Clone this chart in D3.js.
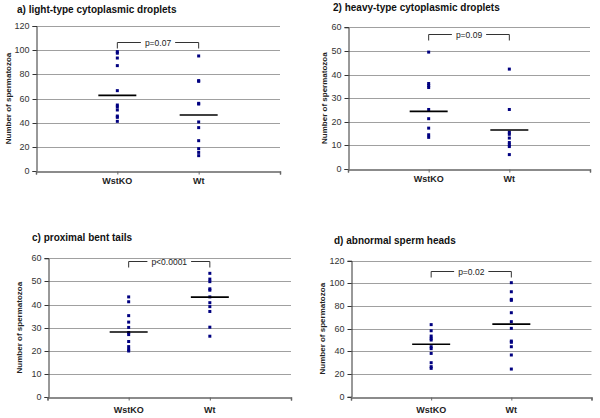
<!DOCTYPE html>
<html><head><meta charset="utf-8">
<script src="https://cdn.jsdelivr.net/npm/d3@7"></script>
<style>
body{margin:0;background:#fff;}
svg{display:block;font-family:"Liberation Sans",Arial,sans-serif;}
</style></head>
<body><svg id="c" width="600" height="418"></svg>
<script>
const categories = ["WstKO", "Wt"];
const titles = ["a) light-type cytoplasmic droplets", "2) heavy-type cytoplasmic droplets", "c) proximal bent tails", "d) abnormal sperm heads"];
const pValues = ["p=0.07", "p=0.09", "p<0.0001", "p=0.02"];
const yMax = [120, 60, 60, 120];
const yStep = [20, 10, 10, 20];
const bracketLevel = [107, 57, 59, 111];

const aWstKO = [98.8, 97.5, 93.5, 87.2, 66.5, 54.6, 53, 50.5, 45.5, 44.4, 41.1];
const aWt = [95.2, 74.8, 74.2, 56, 55.4, 40.6, 35.9, 25.1, 18.5, 15.4, 12.7];
const bWstKO = [49.5, 36.2, 35.3, 34.5, 25.2, 21.3, 17.3, 14.5, 13.4];
const bWt = [42.3, 25.2, 15.6, 14.7, 13.1, 11.2, 10.2, 9.5, 6.1];
const cWstKO = [43.3, 41.2, 35.2, 32.4, 30.1, 27.9, 27, 24, 21.8, 20.6, 19.9];
const cWt = [53.5, 51, 49.9, 46.8, 46.2, 43.3, 40.8, 39.1, 37, 30.2, 26.3];
const dWstKO = [63.6, 58.2, 53.5, 51.5, 50, 44.1, 42.4, 38.2, 30, 26.5, 25];
const dWt = [100.6, 92.6, 85.9, 85, 74.1, 66.2, 60.3, 49.1, 48, 44.1, 36.8, 24.4];
const meanWstKO = [62.6, 24.4, 28.1, 46.3];
const meanWt = [46.3, 16.5, 43.2, 64];

const seriesWstKO = [aWstKO, bWstKO, cWstKO, dWstKO];
const seriesWt = [aWt, bWt, cWt, dWt];

const layouts = [
  {x0: 36, x1: 280, y0: 171, y1: 26, titleX: 17, titleY: 13, labelX: 11, catY: 184},
  {x0: 348, x1: 590, y0: 169, y1: 27.3, titleX: 333, titleY: 11, labelX: 327, catY: 182},
  {x0: 47.5, x1: 291, y0: 397, y1: 258.3, titleX: 32, titleY: 241, labelX: 22, catY: 413},
  {x0: 351, x1: 591.5, y0: 396.7, y1: 260.7, titleX: 334, titleY: 244, labelX: 325, catY: 413}
];

const svg = d3.select("#c");

layouts.forEach((L, i) => {
  const g = svg.append("g");
  const x = d3.scaleLinear().domain([0, 3]).range([L.x0, L.x1]);
  const y = d3.scaleLinear().domain([0, yMax[i]]).range([L.y0, L.y1]);
  const ticks = d3.range(0, yMax[i] + 0.001, yStep[i]);

  // gridlines
  g.selectAll("line.grid").data(ticks.filter(t => t > 0)).join("line")
    .attr("x1", L.x0).attr("x2", L.x1)
    .attr("y1", d => Math.round(y(d)) + 0.5).attr("y2", d => Math.round(y(d)) + 0.5)
    .attr("stroke", "#a0a0a0").attr("stroke-width", 1);

  // y axis
  const ya = d3.axisLeft(y).tickValues(ticks).tickSize(4).tickPadding(3).tickFormat(d3.format("d"));
  const yg = g.append("g").attr("transform", `translate(${Math.round(L.x0) + 0.5},0)`).call(ya);
  yg.select(".domain").attr("stroke", "#333");
  yg.selectAll(".tick line").attr("stroke", "#333");
  yg.selectAll(".tick text").attr("font-size", 9).attr("fill", "#333").attr("font-family", "Liberation Sans, Arial, sans-serif");
  yg.selectAll(".tick").attr("transform", d => `translate(0,${Math.round(y(d)) + 0.5})`);

  // x axis
  const xa = d3.axisBottom(x).tickValues([0, 1, 2, 3]).tickSize(3).tickFormat("");
  const xg = g.append("g").attr("transform", `translate(0,${Math.round(L.y0) + 0.5})`).call(xa);
  xg.select(".domain").attr("stroke", "#666").attr("stroke-width", 1.5);
  xg.selectAll(".tick line").attr("stroke", "#666");

  // category labels
  g.selectAll("text.cat").data(categories).join("text")
    .attr("x", (d, k) => x(k + 1)).attr("y", L.catY)
    .attr("text-anchor", "middle").attr("font-size", 9).attr("font-weight", "bold").attr("fill", "#222")
    .text(d => d);

  // title
  g.append("text").attr("x", L.titleX).attr("y", L.titleY)
    .attr("font-size", 10).attr("font-weight", "bold").attr("fill", "#111").text(titles[i]);

  // y label
  g.append("text").attr("transform", `translate(${L.labelX},${(L.y0 + L.y1) / 2}) rotate(-90)`)
    .attr("text-anchor", "middle").attr("font-size", 8).attr("font-weight", "bold").attr("fill", "#222")
    .text("Number of spermatozoa");

  // points
  [seriesWstKO[i], seriesWt[i]].forEach((vals, k) => {
    g.selectAll(null).data(vals).join("rect")
      .attr("x", x(k + 1) - 1.5).attr("y", d => y(d) - 1.5)
      .attr("width", 3).attr("height", 3).attr("fill", "#000080");
  });

  // mean lines
  [meanWstKO[i], meanWt[i]].forEach((m, k) => {
    g.append("line").attr("x1", x(k + 1) - 19).attr("x2", x(k + 1) + 19)
      .attr("y1", y(m)).attr("y2", y(m)).attr("stroke", "#000").attr("stroke-width", 1.6);
  });

  // bracket
  const by = Math.round(y(bracketLevel[i])) + 0.5;
  const xa1 = x(1), xa2 = x(2), mid = (xa1 + xa2) / 2;
  const txt = g.append("text").attr("x", mid).attr("y", by + 3)
    .attr("text-anchor", "middle").attr("font-size", 8.5).attr("fill", "#222").text(pValues[i]);
  const tw = txt.node().getComputedTextLength();
  const legs = 6;
  g.append("path").attr("d", `M${xa1},${by + legs}V${by}H${mid - tw / 2 - 4}`)
    .attr("fill", "none").attr("stroke", "#333").attr("stroke-width", 1);
  g.append("path").attr("d", `M${mid + tw / 2 + 4},${by}H${xa2}V${by + legs}`)
    .attr("fill", "none").attr("stroke", "#333").attr("stroke-width", 1);
});
</script></body></html>
